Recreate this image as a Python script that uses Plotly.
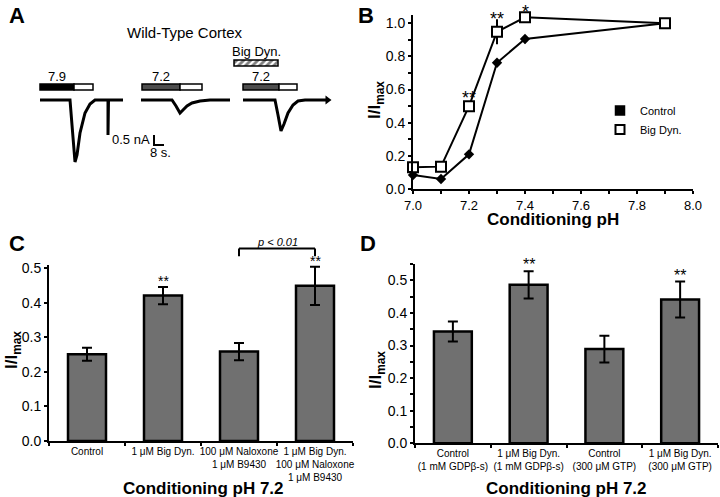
import plotly.graph_objects as go

W, H = 720, 497
FONT = "Arial, Liberation Sans, sans-serif"

# ---------------- Panel A: example current traces (time in s, current in nA) ----------------
a_title = "Wild-Type Cortex"
a_trace_t = [
    [32.0, 56.0, 57.6, 60.0, 61.6, 64.0, 68.0, 72.0, 76.0, 86.4, 86.4, 86.8, 98.4],
    [112.8, 137.6, 140.8, 144.0, 146.4, 149.6, 153.6, 160.0, 168.0, 184.0],
    [194.4, 220.0, 222.4, 224.8, 227.2, 230.4, 234.4, 238.4, 244.0, 260.8],
]
a_trace_i = [
    [0, 0, -1.25, -3.1, -2.75, -1.65, -0.65, -0.2, 0, 0, -1.75, 0, 0],
    [0, 0, -0.3, -0.65, -0.5, -0.3, -0.15, -0.05, 0, 0],
    [0, 0, -0.75, -1.55, -1.2, -0.65, -0.25, -0.05, 0, 0],
]
a_cond_ph = ["7.9", "7.2", "7.2"]
a_cond_start = [32.0, 113.6, 194.4]
a_cond_switch = [59.2, 144.0, 223.2]
a_cond_end = [74.4, 161.6, 237.6]
a_cond_color = ["black", "#4d4d4d", "#4d4d4d"]
a_drug_label = "Big Dyn."
a_drug_start, a_drug_end = 187.2, 222.4
a_scale_nA, a_scale_s = 0.5, 8
a_scale_t0, a_scale_i0 = 123.2, -1.75

# ---------------- Panel B: pH dependence ----------------
b_ph = [7.0, 7.1, 7.2, 7.3, 7.4, 7.9]
b_control = [0.084, 0.06, 0.209, 0.762, 0.905, 1.0]
b_control_err = [0.02, 0.015, 0.015, 0.02, 0.025, 0.0]
b_bigdyn = [0.131, 0.135, 0.50, 0.949, 1.036, 1.0]
b_bigdyn_err = [0.01, 0.01, 0.02, 0.075, 0.01, 0.0]
b_stars = ["", "", "**", "**", "*", ""]
b_star_y = [None, None, 0.585, 1.06, 1.117, None]

# ---------------- Panel C ----------------
c_labels = ["Control", "1 \u03bcM Big Dyn.", "100 \u03bcM Naloxone<br>1 \u03bcM B9430",
            "1 \u03bcM Big Dyn.<br>100 \u03bcM Naloxone<br>1 \u03bcM B9430"]
c_values = [0.251, 0.421, 0.259, 0.449]
c_err = [0.019, 0.025, 0.025, 0.055]
c_stars = ["", "**", "", "**"]
c_bracket_text = "p < 0.01"
c_bracket_idx = (2, 3)
c_bracket_y = (0.535, 0.557)

# ---------------- Panel D ----------------
d_labels = ["Control<br>(1 mM GDP\u03b2-s)", "1 \u03bcM Big Dyn.<br>(1 mM GDP\u03b2-s)",
            "Control<br>(300 \u03bcM GTP)", "1 \u03bcM Big Dyn.<br>(300 \u03bcM GTP)"]
d_values = [0.343, 0.486, 0.289, 0.441]
d_err = [0.031, 0.042, 0.041, 0.055]
d_stars = ["", "**", "", "**"]


def PX(px):
    return px / W


def PY(py):
    return 1 - py / H


def to_paper(v, dom, rng):
    return dom[0] + (v - rng[0]) / (rng[1] - rng[0]) * (dom[1] - dom[0])


BAR_COLOR = "#707070"

# axis geometry (domains in paper, ranges in data)
B_XDOM, B_XRNG = (PX(413), PX(693)), (7.0, 8.0)
B_YDOM, B_YRNG = (PY(189), PY(15)), (0, 1.05)
C_XDOM, C_YDOM, C_YRNG = (PX(49), PX(353)), (PY(441), PY(264.8)), (0, 0.51)
D_XDOM, D_YDOM, D_YRNG = (PX(415), PX(718)), (PY(443.3), PY(264)), (0, 0.55)

fig = go.Figure()

# ---- Panel A traces
for t, i in zip(a_trace_t, a_trace_i):
    fig.add_trace(go.Scatter(x=t, y=i, mode="lines", xaxis="x5", yaxis="y5",
                             line=dict(color="black", width=3), showlegend=False,
                             hoverinfo="skip"))
fig.add_trace(go.Scatter(x=[a_trace_t[2][-1] + 1.2], y=[a_trace_i[2][-1]], mode="markers",
                         xaxis="x5", yaxis="y5",
                         marker=dict(symbol="triangle-right", size=8, color="black"),
                         showlegend=False, hoverinfo="skip"))
# hatched drug bar
fig.add_trace(go.Bar(y=[1.85], x=[a_drug_end - a_drug_start], base=[a_drug_start],
                     orientation="h", width=[0.3], xaxis="x5", yaxis="y5",
                     marker=dict(color="white", line=dict(color="black", width=1.5),
                                 pattern=dict(shape="/", fgcolor="black", bgcolor="white",
                                              size=5, solidity=0.55)),
                     showlegend=False, hoverinfo="skip"))
# scale bar
fig.add_trace(go.Scatter(x=[a_scale_t0, a_scale_t0, a_scale_t0 + a_scale_s],
                         y=[a_scale_i0, a_scale_i0 - a_scale_nA, a_scale_i0 - a_scale_nA],
                         mode="lines", xaxis="x5", yaxis="y5",
                         line=dict(color="black", width=2), showlegend=False, hoverinfo="skip"))

shapes = []
annotations = []
for s, m, e, col, ph in zip(a_cond_start, a_cond_switch, a_cond_end, a_cond_color, a_cond_ph):
    shapes.append(dict(type="rect", xref="x5", yref="y5", x0=s, x1=m, y0=0.5, y1=0.8,
                       fillcolor=col, line=dict(color="black", width=1.5)))
    shapes.append(dict(type="rect", xref="x5", yref="y5", x0=m, x1=e, y0=0.5, y1=0.8,
                       fillcolor="white", line=dict(color="black", width=1.5)))
    annotations.append(dict(x=(s + m) / 2, y=1.2, xref="x5", yref="y5", text=ph,
                            font=dict(size=13, color="black")))
annotations.append(dict(x=(a_drug_start + a_drug_end) / 2, y=2.45, xref="x5", yref="y5",
                        text=a_drug_label, font=dict(size=13, color="black")))
annotations.append(dict(x=a_scale_t0 - 1.5, y=a_scale_i0 - 0.2, xref="x5", yref="y5",
                        text=f"{a_scale_nA} nA", xanchor="right",
                        font=dict(size=13, color="black")))
annotations.append(dict(x=a_scale_t0 + 4.8, y=a_scale_i0 - 0.85, xref="x5", yref="y5",
                        text=f"{a_scale_s} s.", font=dict(size=13, color="black")))
annotations.append(dict(x=PX(185), y=PY(33), text=a_title, font=dict(size=15, color="black")))

# ---- Panel B
fig.add_trace(go.Scatter(x=b_ph, y=b_control, mode="lines+markers", xaxis="x", yaxis="y",
                         line=dict(color="black", width=2),
                         marker=dict(symbol="diamond", size=8, color="black"),
                         error_y=dict(type="data", array=b_control_err, color="black",
                                      thickness=2, width=0),
                         cliponaxis=False, showlegend=False))
fig.add_trace(go.Scatter(x=b_ph, y=b_bigdyn, mode="lines+markers", xaxis="x", yaxis="y",
                         line=dict(color="black", width=2),
                         marker=dict(symbol="square", size=10, color="white",
                                     line=dict(color="black", width=2)),
                         error_y=dict(type="data", array=b_bigdyn_err, color="black",
                                      thickness=2, width=0),
                         cliponaxis=False, showlegend=False))
fig.add_trace(go.Scatter(x=[None], y=[None], mode="markers", name="Control",
                         marker=dict(symbol="square", size=9, color="black",
                                     line=dict(color="black", width=1.5))))
fig.add_trace(go.Scatter(x=[None], y=[None], mode="markers", name="Big Dyn.",
                         marker=dict(symbol="square", size=9, color="white",
                                     line=dict(color="black", width=2))))
for x, st, sy in zip(b_ph, b_stars, b_star_y):
    if st:
        # asterisks sit high in their text box: anchor the box top a few px above the glyph
        ytop = min(1.0, to_paper(sy, B_YDOM, B_YRNG) + 6.5 / H)
        annotations.append(dict(x=to_paper(x, B_XDOM, B_XRNG), y=ytop,
                                text=st, yanchor="top",
                                font=dict(size=18, color="black")))

# ---- Panel C
fig.add_trace(go.Bar(x=c_labels, y=c_values, xaxis="x3", yaxis="y3", width=0.5,
                     marker=dict(color=BAR_COLOR, line=dict(color="black", width=2.5)),
                     error_y=dict(type="data", array=c_err, color="black", thickness=2, width=5),
                     showlegend=False))
for k, (v, e, st) in enumerate(zip(c_values, c_err, c_stars)):
    if st:
        annotations.append(dict(x=k, y=to_paper(v + e, C_YDOM, C_YRNG), xref="x3",
                                text=st, yanchor="bottom", yshift=-4,
                                font=dict(size=14, color="black")))

bx0, bx1 = c_bracket_idx
by0, by1 = to_paper(c_bracket_y[0], C_YDOM, C_YRNG), to_paper(c_bracket_y[1], C_YDOM, C_YRNG)
for seg in [(bx0, by0, bx0, by1), (bx0, by1, bx1, by1), (bx1, by1, bx1, by0)]:
    shapes.append(dict(type="line", xref="x3", yref="paper", x0=seg[0], y0=seg[1],
                       x1=seg[2], y1=seg[3], line=dict(color="black", width=2)))
annotations.append(dict(x=(bx0 + bx1) / 2, y=by1, xref="x3",
                        text=f"<i>{c_bracket_text}</i>", yanchor="bottom",
                        yshift=-1, font=dict(size=11, color="black")))

# ---- Panel D
fig.add_trace(go.Bar(x=d_labels, y=d_values, xaxis="x4", yaxis="y4", width=0.5,
                     marker=dict(color=BAR_COLOR, line=dict(color="black", width=2.5)),
                     error_y=dict(type="data", array=d_err, color="black", thickness=2, width=5),
                     showlegend=False))
for k, (v, e, st) in enumerate(zip(d_values, d_err, d_stars)):
    if st:
        annotations.append(dict(x=k, y=to_paper(v + e, D_YDOM, D_YRNG), xref="x4",
                                text=st, yanchor="bottom", yshift=-4,
                                font=dict(size=16, color="black")))

# ---- axis titles and panel letters
TITLE_FONT = dict(size=17, color="black", family=FONT)
annotations += [
    dict(x=PX(553), y=PY(219), text="<b>Conditioning pH</b>", font=TITLE_FONT),
    dict(x=PX(376), y=PY(100), text="<b>I/I<sub>max</sub></b>", textangle=-90, font=TITLE_FONT),
    dict(x=PX(203), y=PY(488), text="<b>Conditioning pH 7.2</b>", font=TITLE_FONT),
    dict(x=PX(13), y=PY(350), text="<b>I/I<sub>max</sub></b>", textangle=-90, font=TITLE_FONT),
    dict(x=PX(566), y=PY(488), text="<b>Conditioning pH 7.2</b>", font=TITLE_FONT),
    dict(x=PX(377), y=PY(370), text="<b>I/I<sub>max</sub></b>", textangle=-90, font=TITLE_FONT),
]
for letter, lx, ly in [("A", 17, 16), ("B", 366, 16), ("C", 17, 243), ("D", 368, 243)]:
    annotations.append(dict(x=PX(lx), y=PY(ly), text=f"<b>{letter}</b>",
                            font=dict(size=22, color="black", family=FONT)))
for a in annotations:
    a.setdefault("xref", "paper")
    a.setdefault("yref", "paper")
    a.setdefault("xanchor", "center")
    a.setdefault("yanchor", "middle")
    a["showarrow"] = False

AX = dict(showline=True, linecolor="black", linewidth=2, showgrid=False, zeroline=False,
          ticks="outside", tickcolor="black", tickwidth=2, ticklen=3, automargin=False,
          tickfont=dict(size=14, color="black", family=FONT))
CAT_FONT = dict(size=10, color="black", family=FONT)
MINOR = dict(ticks="outside", ticklen=3, tickcolor="black", tickwidth=2)

layout = dict(
    width=W, height=H, margin=dict(l=0, r=0, t=0, b=0, autoexpand=False),
    paper_bgcolor="white", plot_bgcolor="white",
    font=dict(family=FONT, color="black"),
    barmode="overlay",
    xaxis=dict(AX, domain=list(B_XDOM), range=list(B_XRNG), dtick=0.2, tick0=7.0,
               tickformat=".1f", anchor="y", minor=dict(MINOR, dtick=0.1),
               tickfont=dict(size=13, color="black", family=FONT)),
    yaxis=dict(AX, domain=list(B_YDOM), range=list(B_YRNG), dtick=0.2, tickformat=".1f",
               anchor="x", minor=dict(MINOR, dtick=0.1)),
    xaxis3=dict(AX, domain=list(C_XDOM), range=[-0.5, 3.5], tickson="boundaries",
                anchor="y3", tickangle=0, tickfont=CAT_FONT),
    yaxis3=dict(AX, domain=list(C_YDOM), range=list(C_YRNG), dtick=0.1,
                tickformat=".1f", anchor="x3"),
    xaxis4=dict(AX, domain=list(D_XDOM), range=[-0.5, 3.5], tickson="boundaries",
                anchor="y4", tickangle=0, tickfont=CAT_FONT),
    yaxis4=dict(AX, domain=list(D_YDOM), range=list(D_YRNG), dtick=0.1,
                tickformat=".1f", anchor="x4", minor=dict(MINOR, dtick=0.05)),
    xaxis5=dict(domain=[0, 0.5], range=[0, 288], visible=False, anchor="y5", fixedrange=True,
                automargin=False),
    yaxis5=dict(domain=[PY(200), 1], range=[-5, 5], visible=False, anchor="x5", fixedrange=True,
                automargin=False),
    showlegend=True,
    legend=dict(x=PX(600), y=PY(96), xanchor="left", yanchor="top", bgcolor="rgba(0,0,0,0)",
                font=dict(size=11, color="black", family=FONT), itemwidth=30,
                tracegroupgap=0),
    shapes=shapes,
    annotations=annotations,
)
fig.update_layout(layout)
fig.write_html("out.html", config={"displayModeBar": False},
               post_script="document.body.style.margin='0';document.body.style.padding='0';")
